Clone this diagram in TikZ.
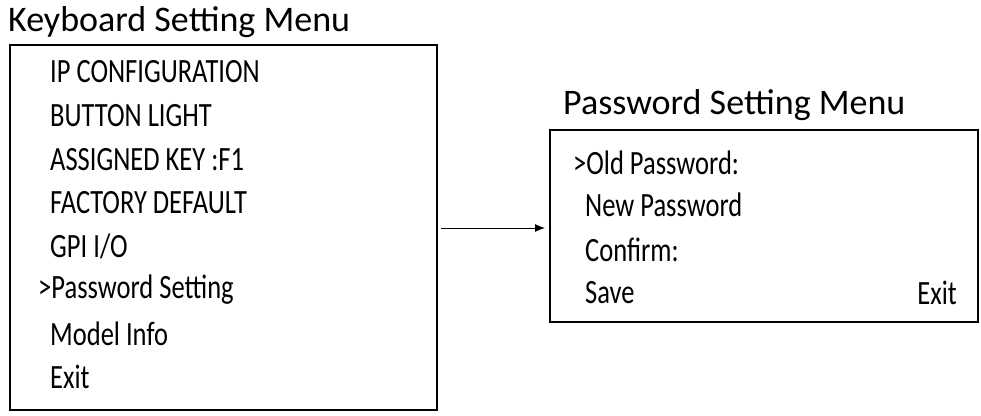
\documentclass[tikz,border=0pt]{standalone}
\usepackage{fontspec}
\setmainfont{Carlito}
\newfontfamily\menufont[FakeStretch=0.78]{Carlito}
\usetikzlibrary{arrows.meta}
\tikzset{
  menu box/.style={draw, line width=1.2pt},
  menu title/.style={anchor=west, font=\fontsize{36}{38}\selectfont, inner sep=0pt},
  menu item/.style={anchor=west, font=\menufont\fontsize{34}{36}\selectfont, inner sep=0pt},
}
\begin{document}
\begin{tikzpicture}[x=1pt,y=-1pt]
  \useasboundingbox (0,0) rectangle (981,415);
  % keyboard menu
  \node[menu title] (kbtitle) at (8,22) {Keyboard Setting Menu};
  \draw[menu box] (10,45) rectangle (437,410);
  \coordinate (kbright) at (437,228);
  \foreach \txt [count=\i] in {IP CONFIGURATION, BUTTON LIGHT, ASSIGNED KEY :F1,
      FACTORY DEFAULT, GPI I/O, >Password Setting, Model Info, Exit}{
    \pgfmathsetmacro{\ix}{\i==6 ? 38 : 50}
    \pgfmathsetmacro{\iy}{72+43.6*(\i-1)}
    \node[menu item] (kb\i) at (\ix,\iy) {\txt};
  }
  % password menu
  \node[menu title] (pwtitle) at (563,105) {Password Setting Menu};
  \draw[menu box] (550,130) rectangle (978,322);
  \coordinate (pwleft) at (550,228);
  \node[menu item] (pw1) at (573,163) {>Old Password:};
  \node[menu item] (pw2) at (585,205) {New Password};
  \node[menu item] (pw3) at (585,250) {Confirm:};
  \node[menu item] (pw4) at (585,293) {Save};
  \node[menu item, anchor=east] (pw5) at (957,293) {Exit};
  % link
  \draw[-{Latex[length=10pt,width=8pt]}, line width=1pt] ([xshift=4pt]kbright) -- ([xshift=-5pt]pwleft);
\end{tikzpicture}
\end{document}
